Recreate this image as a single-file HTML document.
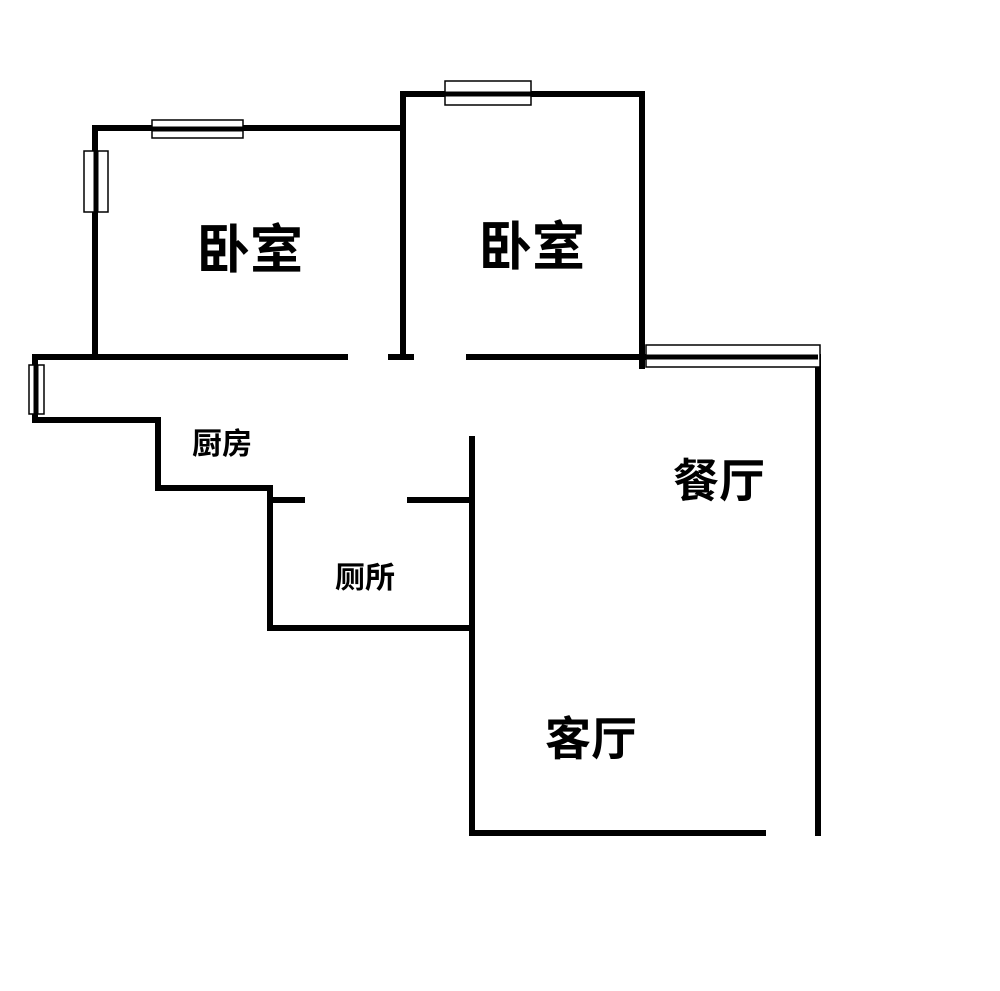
<!DOCTYPE html>
<html><head><meta charset="utf-8"><style>
body{margin:0;background:#fff}
</style></head><body>
<svg width="1000" height="986" viewBox="0 0 1000 986" xmlns="http://www.w3.org/2000/svg">
<g stroke="#000" stroke-width="6" fill="none" stroke-linecap="square">
<polyline points="95,355 95,128 403,128"/>
<polyline points="403,357 403,94 642,94 642,366"/>
<line x1="35" y1="357" x2="345" y2="357"/>
<line x1="391" y1="357" x2="411" y2="357"/>
<line x1="469" y1="357" x2="642" y2="357"/>
<line x1="642" y1="357" x2="818" y2="357"/>
<line x1="818" y1="357" x2="818" y2="833"/>
<line x1="474" y1="833" x2="763" y2="833"/>
<line x1="472" y1="439" x2="472" y2="833"/>
<polyline points="35,357 35,420 158,420 158,488 270,488 270,628 472,628"/>
<line x1="270" y1="500" x2="302" y2="500"/>
<line x1="410" y1="500" x2="472" y2="500"/>
</g>
<g stroke="#000" stroke-width="1.5" fill="#fff">
<rect x="152" y="120" width="91" height="18"/>
<rect x="84" y="151" width="24" height="61"/>
<rect x="445" y="81" width="86" height="24"/>
<rect x="29" y="365" width="15" height="49"/>
<rect x="646" y="345" width="174" height="22"/>
</g>
<g stroke="#000" stroke-width="6">
<line x1="152" y1="129" x2="243" y2="129" stroke-width="5"/>
<line x1="96" y1="151" x2="96" y2="212" stroke-width="5"/>
<line x1="445" y1="94" x2="531" y2="94" stroke-width="5"/>
<line x1="36" y1="365" x2="36" y2="414" stroke-width="5"/>
<line x1="642" y1="357" x2="818" y2="357" stroke-width="5"/>
<line x1="642" y1="345" x2="642" y2="367" stroke-width="6"/>
</g>
<g font-family="'Liberation Sans','Noto Sans CJK SC',sans-serif" font-weight="bold" fill="#000" text-anchor="middle">
<text x="250" y="268" font-size="53">卧室</text>
<text x="532" y="265" font-size="53">卧室</text>
<text x="222" y="454" font-size="30">厨房</text>
<text x="365" y="588" font-size="30">厕所</text>
<text x="719" y="497" font-size="46">餐厅</text>
<text x="591" y="755" font-size="46">客厅</text>
</g>
</svg>
</body></html>
